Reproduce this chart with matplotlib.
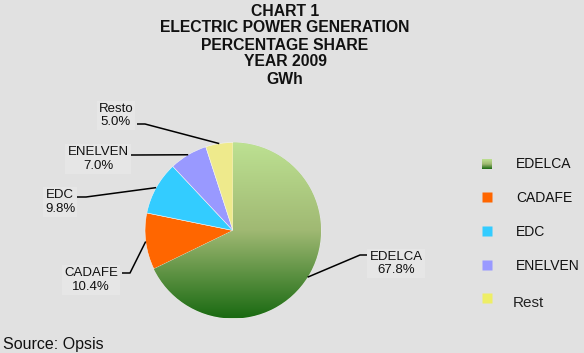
import numpy as np
import matplotlib
matplotlib.use("Agg")
import matplotlib.pyplot as plt
from matplotlib.colors import LinearSegmentedColormap

plt.rcParams['font.family'] = ['Liberation Sans', 'DejaVu Sans']

# data
companies = ["EDELCA", "CADAFE", "EDC", "ENELVEN", "Rest"]
shares = [67.8, 10.4, 9.8, 7.0, 5.0]
pie_labels = ["EDELCA", "CADAFE", "EDC", "ENELVEN", "Resto"]
colors = ["#7fae5a", "#ff6600", "#33ccff", "#9999ff", "#eeea8c"]
legend_colors = ["#7fae5a", "#ff6600", "#33ccff", "#9999ff", "#eeee66"]
title_lines = ["CHART 1", "ELECTRIC POWER GENERATION", "PERCENTAGE SHARE",
               "YEAR 2009", "GWh"]

BG = "#e1e1e1"
green = LinearSegmentedColormap.from_list("g", ["#bde192", "#a0b973", "#1a6a12"])

fig = plt.figure(figsize=(5.84, 3.53), dpi=100, facecolor=BG)
ax = fig.add_axes([0, 0, 1, 1])
ax.set_facecolor(BG)

cx, cy, r = 233, 230.5, 88
wedges, _ = ax.pie(shares, colors=colors, startangle=-90, counterclock=True,
                   center=(cx, cy), radius=r,
                   wedgeprops=dict(edgecolor="#f4f4f4", linewidth=0.4))
ax.set_xlim(0, 584)
ax.set_ylim(353, 0)
ax.set_aspect("equal")
ax.axis("off")

# gradient fill for the EDELCA slice
grad = np.linspace(0, 1, 256)[:, None]
im = ax.imshow(grad, cmap=green, aspect="auto", origin="upper",
               extent=(cx - r, cx + r, cy + r, cy - r), zorder=wedges[0].get_zorder() + 0.1)
im.set_clip_path(wedges[0])

# labels with leader lines: text centre, line start, elbow
label_pos = [(396, 263.5), (91, 280), (60, 202), (98, 159), (116, 115.5)]
line_start = [(367, 255), (122, 273), (77, 197), (131, 155), (137, 124)]
line_elbow = [(360, 255), (130, 273), (86, 197), (136, 155), (145, 124)]

for w, name, val, tp, ls, le in zip(wedges, pie_labels, shares, label_pos,
                                    line_start, line_elbow):
    ang = np.deg2rad((w.theta1 + w.theta2) / 2)
    px, py = cx + r * np.cos(ang), cy + r * np.sin(ang)
    ax.plot([ls[0], le[0], px], [ls[1], le[1], py], color="black", lw=1.1,
            solid_capstyle="butt", zorder=5)
    ax.text(tp[0], tp[1], f"{name}\n{val:.1f}%", ha="center", va="center",
            fontsize=9.5, linespacing=1.15, color="#111111",
            bbox=dict(facecolor="#e6e6e6", edgecolor="none", pad=1.5))

# title
for i, line in enumerate(title_lines):
    ax.text(285, 11 + 17 * i, line, ha="center", va="center", fontsize=11.3,
            fontweight="bold", color="#111111")

# legend
leg_y = [164, 197, 231, 265, 298]
for name, col, y in zip(companies, legend_colors, leg_y):
    if name == "EDELCA":
        ax.imshow(grad, cmap=green, aspect="auto", origin="upper",
                  extent=(482, 492, y + 5, y - 5), zorder=4)
    else:
        ax.plot(487, y, marker="s", markersize=7.4, color=col, mec="none")
    if name == "Rest":
        ax.text(513, y + 5, name, ha="left", va="center", fontsize=11,
                color="#222222")
    else:
        ax.text(516, y + 0.5, name, ha="left", va="center", fontsize=10,
                color="#111111")

ax.text(3, 345, "Source: Opsis", ha="left", va="center", fontsize=11.5,
        color="#111111")

fig.savefig("out.png", dpi=100, facecolor=BG)
